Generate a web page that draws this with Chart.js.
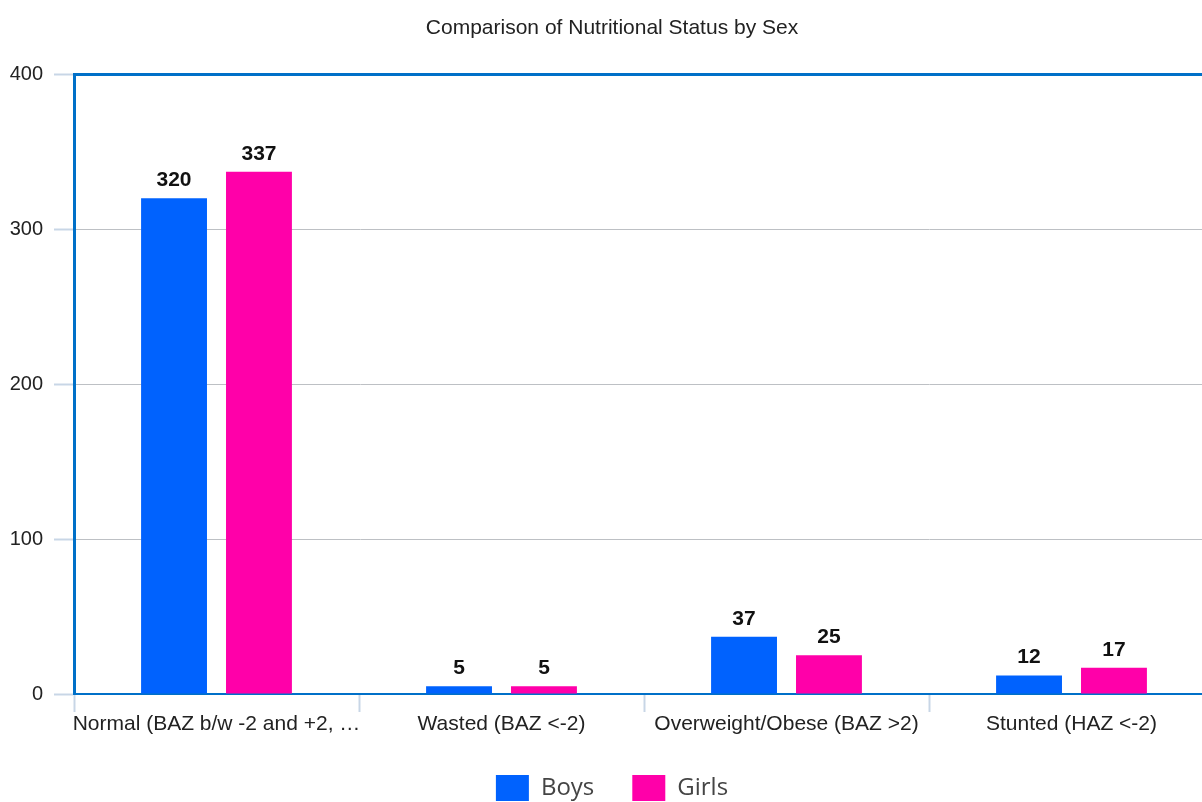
<!DOCTYPE html>
<html>
<head>
<meta charset="utf-8">
<script src="https://cdn.jsdelivr.net/npm/chart.js@4"></script>
<style>
  html, body { margin: 0; padding: 0; overflow: hidden; background: #fff; }
  #wrap { width: 1216px; height: 802px; position: relative; }
</style>
</head>
<body>
<div id="wrap"><canvas id="grafica"></canvas></div>
<script>
// --- DATOS ---
const categorias = ["Normal (BAZ b/w -2 and +2, \u2026", "Wasted (BAZ <-2)", "Overweight/Obese (BAZ >2)", "Stunted (HAZ <-2)"];
const ninos = [320, 5, 37, 12];
const ninas = [337, 5, 25, 17];
const marcasY = [0, 100, 200, 300, 400];

const AZUL_BORDE = '#0070c8';
const FUENTE = '"Liberation Sans", Arial, sans-serif';
const ALTO_LEYENDA = 65;

// etiquetas encima de las barras
const etiquetasBarras = {
    id: 'etiquetasBarras',
    afterDatasetsDraw(chart) {
        const ctx = chart.ctx;
        ctx.save();
        ctx.font = 'bold 21px ' + FUENTE;
        ctx.fillStyle = '#111';
        ctx.textAlign = 'center';
        ctx.textBaseline = 'alphabetic';
        chart.data.datasets.forEach((ds, i) => {
            chart.getDatasetMeta(i).data.forEach((bar, j) => {
                ctx.fillText(ds.data[j], bar.x, bar.y - 12);
            });
        });
        ctx.restore();
    }
};

// la leyenda usa mucho padding horizontal, pero no queremos tanto alto
const altoLeyenda = {
    id: 'altoLeyenda',
    beforeLayout(chart) {
        const lg = chart.legend;
        if (lg && !lg._ajustado) {
            const fitOrig = lg.fit.bind(lg);
            lg.fit = function () { fitOrig(); this.height = ALTO_LEYENDA; };
            lg._ajustado = true;
        }
    }
};

function inicializarGrafica() {
    const ctx = document.getElementById('grafica').getContext('2d');
    new Chart(ctx, {
        type: 'bar',
        data: {
            labels: categorias,
            datasets: [
                { label: 'Boys', data: ninos, backgroundColor: '#0062fe', borderWidth: 0 },
                { label: 'Girls', data: ninas, backgroundColor: '#ff00a9', borderWidth: 0 }
            ]
        },
        options: {
            responsive: true,
            maintainAspectRatio: false,
            animation: false,
            layout: { padding: { left: 10, right: 2, top: 0, bottom: 0 } },
            datasets: { bar: { categoryPercentage: 0.596, barPercentage: 0.776 } },
            scales: {
                x: {
                    afterFit: (s) => { s.paddingLeft = 0; s.paddingRight = 0; },
                    grid: { drawOnChartArea: false, tickLength: 18, tickColor: '#c8d6e6', tickWidth: 2, offset: true },
                    border: { color: AZUL_BORDE, width: 2 },
                    ticks: { color: '#222', font: { family: FUENTE, size: 21, lineHeight: 1 }, padding: 2, maxRotation: 0, autoSkip: false }
                },
                y: {
                    min: 0, max: 400,
                    afterBuildTicks: (eje) => { eje.ticks = marcasY.map(v => ({ value: v })); },
                    afterFit: (s) => { s.width = 64; },
                    grid: {
                        color: (c) => c.tick && c.tick.value === 400 ? AZUL_BORDE : '#bdc0c4',
                        lineWidth: (c) => c.tick && c.tick.value === 400 ? 3 : 1,
                        tickColor: '#c8d6e6', tickLength: 20, tickWidth: 2
                    },
                    border: { color: AZUL_BORDE, width: 3 },
                    ticks: { color: '#222', font: { family: FUENTE, size: 20 }, padding: 11 }
                }
            },
            plugins: {
                title: {
                    display: true,
                    text: 'Comparison of Nutritional Status by Sex',
                    color: '#222',
                    font: { family: FUENTE, size: 21, weight: 'normal' },
                    padding: { top: 16, bottom: 33 }
                },
                legend: {
                    position: 'bottom',
                    labels: {
                        boxWidth: 33, boxHeight: 26, padding: 38,
                        color: '#444',
                        font: { family: '"Open Sans", sans-serif', size: 24 }
                    }
                },
                tooltip: { enabled: false }
            }
        },
        plugins: [etiquetasBarras, altoLeyenda]
    });
}

window.onload = inicializarGrafica;
</script>
</body>
</html>
